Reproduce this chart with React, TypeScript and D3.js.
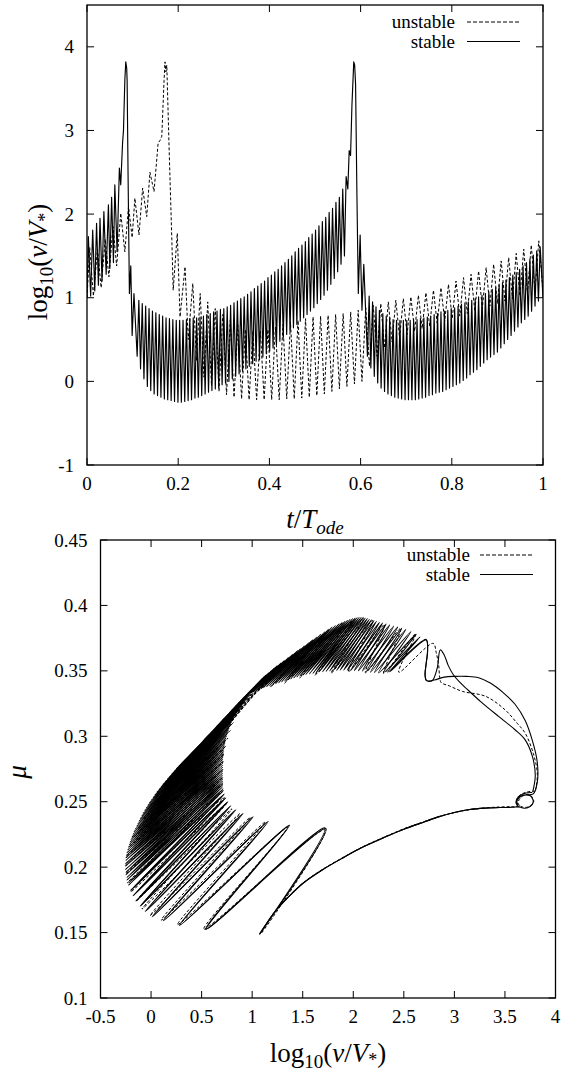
import React from 'react';
import * as d3 from 'd3';

type P = [number, number];

// ---------- ticks ----------
const topXTicks = [0, 0.2, 0.4, 0.6, 0.8, 1];
const topYTicks = [-1, 0, 1, 2, 3, 4];
const botXTicks = [-0.5, 0, 0.5, 1, 1.5, 2, 2.5, 3, 3.5, 4];
const botYTicks = [0.1, 0.15, 0.2, 0.25, 0.3, 0.35, 0.4, 0.45];
const legendLabels = ['unstable', 'stable'];

// ---------- top panel: stable (solid) ----------
const stableTopLead: P[] = [
  [0, 1.0], [0.003, 1.73], [0.008, 1.02], [0.0125, 1.81], [0.017, 1.08], [0.021, 1.89], [0.025, 1.15],
  [0.0285, 1.95], [0.033, 1.2], [0.037, 2.03], [0.042, 1.28], [0.047, 2.11], [0.05, 1.35], [0.054, 2.2],
  [0.058, 1.42], [0.061, 2.35], [0.066, 1.55], [0.071, 2.55], [0.074, 2.35], [0.078, 2.85], [0.08, 3.0],
  [0.083, 3.6], [0.085, 3.82], [0.087, 3.75], [0.088, 3.6], [0.09, 2.5], [0.093, 1.05], [0.096, 1.38],
  [0.099, 0.55], [0.103, 1.05],
];
const stableMidSpan = [0.11, 0.572];
const stableMidTroughs = [
  0.30, 0.15, 0.03, -0.06, -0.11, -0.15, -0.17, -0.19, -0.21, -0.22, -0.23, -0.24, -0.25, -0.25, -0.24,
  -0.23, -0.22, -0.20, -0.19, -0.17, -0.15, -0.13, -0.11, -0.09, -0.07, -0.04, -0.02, 0.0, 0.03, 0.06,
  0.09, 0.12, 0.15, 0.18, 0.21, 0.24, 0.26, 0.29, 0.33, 0.36, 0.40, 0.44, 0.48, 0.52, 0.56, 0.60, 0.64,
  0.68, 0.72, 0.76, 0.80, 0.84, 0.88, 0.93, 0.98, 1.03, 1.09, 1.16, 1.23, 1.31, 1.40, 1.50,
];
const stableMidPeaks = [
  0.97, 0.93, 0.90, 0.87, 0.84, 0.82, 0.80, 0.78, 0.76, 0.75, 0.74, 0.73, 0.73, 0.73, 0.74, 0.75, 0.76,
  0.76, 0.77, 0.78, 0.80, 0.81, 0.83, 0.84, 0.86, 0.87, 0.89, 0.91, 0.94, 0.96, 0.99, 1.01, 1.04, 1.07,
  1.11, 1.14, 1.17, 1.20, 1.24, 1.27, 1.31, 1.34, 1.38, 1.42, 1.46, 1.50, 1.55, 1.59, 1.63, 1.67, 1.72,
  1.76, 1.81, 1.86, 1.91, 1.96, 2.02, 2.07, 2.14, 2.20, 2.30, 2.45,
];
const stableTopSpike: P[] = [
  [0.572, 2.3], [0.575, 2.76], [0.578, 2.7], [0.581, 3.3], [0.585, 3.82], [0.587, 3.78], [0.589, 3.55],
  [0.592, 2.2], [0.595, 1.05], [0.599, 1.75], [0.603, 0.85], [0.607, 1.4],
];
const stableTailSpan = [0.615, 0.9975];
const stableTailTroughs = [
  0.30, 0.16, 0.06, -0.02, -0.08, -0.12, -0.15, -0.17, -0.19, -0.20, -0.21, -0.22, -0.22, -0.22, -0.22,
  -0.21, -0.20, -0.19, -0.17, -0.16, -0.14, -0.13, -0.12, -0.10, -0.08, -0.06, -0.04, -0.02, 0.01, 0.04,
  0.08, 0.11, 0.14, 0.18, 0.22, 0.26, 0.29, 0.32, 0.35, 0.40, 0.45, 0.50, 0.55, 0.60, 0.65, 0.70, 0.74,
  0.78, 0.84, 0.90, 0.96,
];
const stableTailPeaks = [
  1.02, 0.95, 0.89, 0.85, 0.81, 0.78, 0.76, 0.74, 0.73, 0.73, 0.73, 0.73, 0.73, 0.74, 0.74, 0.75, 0.76,
  0.77, 0.78, 0.80, 0.81, 0.83, 0.84, 0.85, 0.87, 0.88, 0.90, 0.92, 0.94, 0.95, 0.97, 0.99, 1.01, 1.03,
  1.05, 1.07, 1.10, 1.12, 1.15, 1.18, 1.21, 1.24, 1.27, 1.30, 1.34, 1.38, 1.42, 1.46, 1.51, 1.56, 1.61,
];
const stableTopEnd: P[] = [[1.0, 1.0]];

// ---------- top panel: unstable (dashed) ----------
const unstableTopLead: P[] = [
  [0, 1.0], [0.006, 1.6], [0.014, 1.02], [0.023, 1.58], [0.031, 1.12], [0.04, 1.7], [0.048, 1.25],
  [0.057, 1.85], [0.065, 1.38], [0.074, 2.01], [0.083, 1.55], [0.091, 2.09], [0.099, 1.72], [0.105, 2.19],
  [0.114, 1.75], [0.122, 2.31], [0.131, 1.97], [0.138, 2.5], [0.147, 2.27], [0.156, 2.85], [0.16, 2.88],
  [0.164, 2.93], [0.169, 3.6], [0.171, 3.82], [0.173, 3.7], [0.175, 3.78], [0.18, 2.8], [0.186, 1.7],
  [0.189, 1.09], [0.198, 1.77], [0.204, 0.77], [0.215, 1.37], [0.222, 0.5], [0.232, 1.17],
];
const unstableMidSpan = [0.24, 0.603];
const unstableMidTroughs = [
  0.25, 0.05, -0.05, -0.12, -0.16, -0.19, -0.21, -0.22, -0.22, -0.22, -0.22, -0.22, -0.21, -0.21, -0.2,
  -0.19, -0.17, -0.15, -0.12, -0.09, -0.06, -0.03,
];
const unstableMidPeaks = [
  1.05, 0.95, 0.87, 0.8, 0.73, 0.67, 0.62, 0.6, 0.6, 0.62, 0.65, 0.68, 0.71, 0.73, 0.75, 0.77, 0.78, 0.79,
  0.8, 0.81, 0.83, 0.85,
];
const unstableTailSpan = [0.603, 0.999];
const unstableTailTroughs = [
  0.0, 0.18, 0.3, 0.4, 0.47, 0.52, 0.56, 0.6, 0.63, 0.66, 0.69, 0.72, 0.75, 0.78, 0.81, 0.84, 0.87, 0.9,
  0.93, 0.96, 0.99, 1.02, 1.05, 1.08,
];
const unstableTailPeaks = [
  0.88, 0.91, 0.93, 0.95, 0.97, 0.99, 1.01, 1.03, 1.06, 1.09, 1.12, 1.16, 1.2, 1.24, 1.28, 1.32, 1.36, 1.4,
  1.44, 1.48, 1.53, 1.58, 1.63, 1.68,
];
const unstableTopEnd: P[] = [[1.0, 1.1]];

// ---------- bottom panel: stable (solid), [log10 v, mu] ----------
const stableSpiral: P[] = [
  [3.77, 0.257], [3.7, 0.2565], [3.63, 0.2535], [3.61, 0.249], [3.66, 0.2455], [3.74, 0.246], [3.78, 0.25],
  [3.75, 0.2545], [3.67, 0.2545], [3.62, 0.251], [3.62, 0.2465], [3.55, 0.2457],
];
const stableLower: P[] = [
  [3.45, 0.2456], [3.3, 0.2451], [3.15, 0.244], [3.0, 0.2418], [2.85, 0.2386], [2.7, 0.2345], [2.5, 0.229],
  [2.3, 0.2225], [2.1, 0.2155], [1.9, 0.2072], [1.7, 0.1982], [1.5, 0.1875], [1.35, 0.1765], [1.22, 0.1655],
  [1.13, 0.1555], [1.09, 0.1508], [1.075, 0.149],
];
// first pass of the oscillating part (alternating low-v / high-v turning points)
const stableTips: P[] = [
  [1.73, 0.2295], [0.54, 0.1525], [1.36, 0.2315], [0.28, 0.1555], [1.15, 0.2345], [0.12, 0.159], [1.0, 0.238],
  [0.01, 0.162], [0.9, 0.2405], [-0.06, 0.166], [0.83, 0.2435], [-0.11, 0.17], [0.78, 0.2465], [-0.15, 0.174],
  [0.75, 0.2495], [-0.18, 0.178], [0.73, 0.2525], [-0.205, 0.182], [0.72, 0.2555], [-0.225, 0.186],
  [0.715, 0.2585], [-0.24, 0.19], [0.71, 0.2615], [-0.25, 0.194], [0.71, 0.2645], [-0.255, 0.198],
  [0.71, 0.2675], [-0.255, 0.2025], [0.71, 0.2705],
  [-0.25, 0.207], [0.71, 0.2735], [-0.24, 0.211], [0.71, 0.2765], [-0.225, 0.215], [0.71, 0.2795],
  [-0.21, 0.219], [0.71, 0.2825], [-0.19, 0.223], [0.715, 0.2855], [-0.17, 0.227], [0.72, 0.2885],
  [-0.145, 0.231], [0.725, 0.2915], [-0.12, 0.235], [0.73, 0.2945], [-0.095, 0.239], [0.74, 0.2975],
  [-0.065, 0.243], [0.75, 0.3005], [-0.035, 0.247], [0.76, 0.3035], [0.0, 0.251], [0.775, 0.3065],
  [0.035, 0.255], [0.79, 0.3095], [0.075, 0.259], [0.805, 0.3125], [0.115, 0.263], [0.825, 0.3155],
  [0.16, 0.267], [0.845, 0.3185], [0.205, 0.271], [0.865, 0.321], [0.25, 0.275], [0.885, 0.3235],
  [0.3, 0.279], [0.905, 0.326], [0.35, 0.283], [0.925, 0.328], [0.4, 0.287], [0.945, 0.33], [0.45, 0.291],
  [0.965, 0.332], [0.505, 0.2955], [0.985, 0.334], [0.56, 0.3], [1.01, 0.336], [0.62, 0.305], [1.04, 0.3385],
  [0.68, 0.31], [1.07, 0.341], [0.74, 0.315], [1.1, 0.344], [0.8, 0.32], [1.14, 0.347], [0.86, 0.325],
  [1.19, 0.35], [0.91, 0.329], [1.25, 0.354],
  [0.96, 0.332], [1.32, 0.358], [1.01, 0.334], [1.4, 0.3625], [1.06, 0.3355], [1.48, 0.367], [1.11, 0.337],
  [1.56, 0.3715], [1.17, 0.3385], [1.64, 0.376], [1.23, 0.34], [1.72, 0.38], [1.29, 0.3415], [1.79, 0.3835],
  [1.35, 0.343], [1.86, 0.386], [1.41, 0.3445], [1.92, 0.388], [1.47, 0.346], [1.97, 0.3895], [1.53, 0.3472],
  [2.02, 0.3905], [1.6, 0.348], [2.06, 0.391], [1.66, 0.349], [2.1, 0.391], [1.73, 0.3495], [2.14, 0.39],
  [1.8, 0.35], [2.18, 0.389], [1.87, 0.3505], [2.23, 0.388], [1.94, 0.3505], [2.29, 0.3865], [2.01, 0.3502],
  [2.36, 0.385], [2.09, 0.3498], [2.44, 0.3835], [2.17, 0.349], [2.52, 0.3817], [2.25, 0.3485], [2.62, 0.378],
  [2.34, 0.349], [2.72, 0.374],
];
const stableApproach: P[] = [
  [2.735, 0.366], [2.72, 0.355], [2.71, 0.347], [2.725, 0.3425], [2.78, 0.3425], [2.83, 0.352], [2.86, 0.366],
  [2.9, 0.362], [2.94, 0.354], [2.99, 0.347], [3.05, 0.3415], [3.14, 0.335], [3.26, 0.3265], [3.44, 0.315],
  [3.6, 0.305], [3.7, 0.2973], [3.77, 0.285], [3.8, 0.27], [3.775, 0.2575],
];
// second pass (second slip event of the stable cycle)
const stableTips2: P[] = [
  [1.72, 0.23], [0.55, 0.153], [1.37, 0.232], [0.29, 0.156], [1.16, 0.235], [0.13, 0.1595], [1.01, 0.2385],
  [0.02, 0.1625], [0.91, 0.241], [-0.05, 0.1665], [0.84, 0.244], [-0.1, 0.1705], [0.79, 0.247], [-0.14, 0.1745],
  [0.76, 0.25], [-0.17, 0.1785], [0.74, 0.253], [-0.195, 0.1825], [0.725, 0.256], [-0.22, 0.188], [0.715, 0.26],
  [-0.24, 0.192], [0.71, 0.263], [-0.25, 0.196], [0.71, 0.266], [-0.255, 0.2005], [0.71, 0.269],
  [-0.252, 0.205], [0.71, 0.272], [-0.245, 0.209], [0.71, 0.275], [-0.233, 0.213], [0.71, 0.278],
  [-0.218, 0.217], [0.71, 0.281], [-0.2, 0.221], [0.712, 0.284], [-0.18, 0.225], [0.717, 0.287],
  [-0.158, 0.229], [0.722, 0.29], [-0.133, 0.233], [0.727, 0.293], [-0.108, 0.237], [0.735, 0.296],
  [-0.08, 0.241], [0.745, 0.299], [-0.05, 0.245], [0.755, 0.302], [-0.018, 0.249], [0.768, 0.305],
  [0.018, 0.253], [0.782, 0.308], [0.055, 0.257], [0.797, 0.311], [0.095, 0.261], [0.815, 0.314],
  [0.138, 0.265], [0.835, 0.317], [0.183, 0.269], [0.855, 0.3198], [0.228, 0.273], [0.875, 0.3222],
  [0.275, 0.277], [0.895, 0.3248], [0.325, 0.281], [0.915, 0.327], [0.375, 0.285], [0.935, 0.329],
  [0.425, 0.289], [0.955, 0.331], [0.478, 0.293], [0.975, 0.333], [0.532, 0.2978], [0.998, 0.335],
  [0.59, 0.3025], [1.025, 0.337], [0.65, 0.3075], [1.055, 0.3398], [0.71, 0.3125], [1.085, 0.3425],
  [0.77, 0.3175], [1.12, 0.3455], [0.83, 0.3225], [1.165, 0.3485], [0.885, 0.327], [1.22, 0.352],
  [0.935, 0.3305], [1.285, 0.356],
  [0.985, 0.333], [1.36, 0.3603], [1.035, 0.3348], [1.44, 0.3648], [1.085, 0.3362], [1.52, 0.3693],
  [1.14, 0.3378], [1.6, 0.3738], [1.2, 0.3392], [1.68, 0.378], [1.26, 0.3408], [1.755, 0.3818], [1.32, 0.3422],
  [1.825, 0.3848], [1.38, 0.3438], [1.89, 0.387], [1.44, 0.3452], [1.945, 0.3888], [1.5, 0.3466], [1.995, 0.39],
  [1.565, 0.3476], [2.04, 0.3908], [1.63, 0.3485], [2.08, 0.391], [1.695, 0.3492], [2.12, 0.3905],
  [1.765, 0.3498], [2.16, 0.3895], [1.835, 0.3503], [2.205, 0.3885], [1.905, 0.3505], [2.26, 0.3872],
  [1.975, 0.3504], [2.325, 0.3858], [2.05, 0.35], [2.4, 0.3842], [2.13, 0.3494], [2.48, 0.3826], [2.21, 0.3488],
  [2.57, 0.38], [2.3, 0.3487], [2.66, 0.376], [2.36, 0.3492], [2.72, 0.3735],
];
const stableApproach2: P[] = [
  [2.735, 0.366], [2.72, 0.355], [2.71, 0.347], [2.725, 0.3425], [2.8, 0.343], [2.9, 0.3452], [3.0, 0.3458],
  [3.12, 0.3458], [3.24, 0.3448], [3.36, 0.3405], [3.48, 0.3335], [3.6, 0.3245], [3.7, 0.312], [3.77, 0.297],
  [3.82, 0.28], [3.82, 0.265], [3.78, 0.256], [3.71, 0.2555],
];

// ---------- bottom panel: unstable (dashed) ----------
const unstableSpiral: P[] = [
  [3.8, 0.258], [3.72, 0.2575], [3.64, 0.2545], [3.615, 0.2495], [3.67, 0.246], [3.75, 0.2465], [3.785, 0.2505],
  [3.74, 0.2555], [3.66, 0.2535], [3.63, 0.249], [3.65, 0.2462], [3.56, 0.2462],
];
const unstableLower: P[] = [
  [3.45, 0.246], [3.3, 0.2452], [3.1, 0.2433], [2.9, 0.2398], [2.7, 0.2348], [2.5, 0.2293], [2.3, 0.2228],
  [2.1, 0.2158], [1.9, 0.2075], [1.7, 0.1985], [1.5, 0.1878], [1.35, 0.1768], [1.22, 0.1658], [1.14, 0.1565],
  [1.1, 0.1515], [1.09, 0.1495],
];
const unstableTips: P[] = [
  [1.72, 0.2285], [0.52, 0.1525], [1.35, 0.2305], [0.26, 0.156], [1.13, 0.2345], [0.1, 0.1595], [0.98, 0.238],
  [-0.01, 0.163], [0.88, 0.241], [-0.09, 0.168], [0.8, 0.2445], [-0.15, 0.174], [0.75, 0.249], [-0.2, 0.181],
  [0.725, 0.2535], [-0.235, 0.188], [0.715, 0.2585], [-0.25, 0.195], [0.71, 0.2635], [-0.255, 0.2015],
  [0.71, 0.2685], [-0.245, 0.2085], [0.71, 0.2745], [-0.22, 0.2155], [0.715, 0.2805], [-0.18, 0.2225],
  [0.725, 0.2865], [-0.13, 0.2295], [0.74, 0.2925], [-0.08, 0.2365], [0.76, 0.2985], [-0.02, 0.2435],
  [0.785, 0.3045], [0.05, 0.2505], [0.815, 0.3105], [0.13, 0.2575], [0.85, 0.3165], [0.22, 0.2645],
  [0.89, 0.322], [0.31, 0.2715], [0.93, 0.327], [0.41, 0.2785], [0.97, 0.3315], [0.52, 0.2875], [1.02, 0.336],
  [0.63, 0.297], [1.08, 0.3405], [0.75, 0.307], [1.17, 0.3465], [0.85, 0.317], [1.3, 0.356],
  [0.95, 0.327], [1.45, 0.3655], [1.05, 0.334], [1.6, 0.3735], [1.18, 0.3375], [1.76, 0.3815], [1.32, 0.3405],
  [1.9, 0.387], [1.47, 0.3445], [2.01, 0.3895], [1.62, 0.3465], [2.1, 0.3905], [1.78, 0.348], [2.19, 0.3885],
  [1.95, 0.349], [2.31, 0.3855], [2.12, 0.3485], [2.47, 0.3825], [2.3, 0.348], [2.62, 0.3785], [2.45, 0.349],
  [2.79, 0.371],
];
const unstableApproach: P[] = [
  [2.82, 0.364], [2.845, 0.354], [2.855, 0.345], [2.87, 0.341], [2.95, 0.3385], [3.08, 0.3343], [3.31, 0.3305],
  [3.5, 0.3203], [3.62, 0.31], [3.7, 0.3024], [3.78, 0.287], [3.82, 0.272], [3.81, 0.262], [3.8, 0.258],
];

// ---------- helpers ----------
function cycles(span: number[], troughs: number[], peaks: number[]): P[] {
  const s = d3.scaleLinear().domain([0, troughs.length]).range(span);
  const out: P[] = [];
  troughs.forEach((v, i) => {
    out.push([s(i), v]);
    out.push([s(i + 0.5), peaks[i]]);
  });
  return out;
}

const FONT = '"Liberation Serif", "DejaVu Serif", "Noto Serif", "Times New Roman", Times, serif';
const TICK = 7;
const txt = (size: number, extra: any = {}) => ({ fontFamily: FONT, fontSize: size + 'px', ...extra });

const stableTop: P[] = [
  ...stableTopLead,
  ...cycles(stableMidSpan, stableMidTroughs, stableMidPeaks),
  ...stableTopSpike,
  ...cycles(stableTailSpan, stableTailTroughs, stableTailPeaks),
  ...stableTopEnd,
];
const unstableTop: P[] = [
  ...unstableTopLead,
  ...cycles(unstableMidSpan, unstableMidTroughs, unstableMidPeaks),
  ...cycles(unstableTailSpan, unstableTailTroughs, unstableTailPeaks),
  ...unstableTopEnd,
];
const stableBottom: P[] = [...stableSpiral, ...stableLower, ...stableTips, ...stableApproach];
const stableBottom2: P[] = [...stableLower, ...stableTips2, ...stableApproach2];
const unstableBottom: P[] = [...unstableSpiral, ...unstableLower, ...unstableTips, ...unstableApproach];

function Frame({ x, y, xTicks, yTicks }: { x: any; y: any; xTicks: number[]; yTicks: number[] }) {
  const [x0, x1] = x.range();
  const [y0, y1] = y.range();
  return (
    <g>
      {xTicks.map((t) => (
        <g key={'x' + t}>
          <line x1={x(t)} x2={x(t)} y1={y0} y2={y0 - TICK} stroke="#000" strokeWidth={1} />
          <line x1={x(t)} x2={x(t)} y1={y1} y2={y1 + TICK} stroke="#000" strokeWidth={1} />
          <text x={x(t)} y={y0 + 25} style={txt(19)} textAnchor="middle">{String(t)}</text>
        </g>
      ))}
      {yTicks.map((t) => (
        <g key={'y' + t}>
          <line x1={x0} x2={x0 + TICK} y1={y(t)} y2={y(t)} stroke="#000" strokeWidth={1} />
          <line x1={x1} x2={x1 - TICK} y1={y(t)} y2={y(t)} stroke="#000" strokeWidth={1} />
          <text x={x0 - 13} y={y(t) + 6.5} style={txt(19)} textAnchor="end">{String(t)}</text>
        </g>
      ))}
      <rect x={x0} y={y1} width={x1 - x0} height={y0 - y1} fill="none" stroke="#000" strokeWidth={1.3} />
    </g>
  );
}

function Legend({ xText, xLine0, xLine1, y0 }: { xText: number; xLine0: number; xLine1: number; y0: number }) {
  return (
    <g>
      {legendLabels.map((lab, i) => (
        <g key={lab}>
          <text x={xText} y={y0 + i * 19.5} style={txt(19)} textAnchor="end">{lab}</text>
          <line x1={xLine0} x2={xLine1} y1={y0 + i * 19.5 - 6} y2={y0 + i * 19.5 - 6} stroke="#000"
            strokeWidth={1} strokeDasharray={i === 0 ? '4,2' : undefined} />
        </g>
      ))}
    </g>
  );
}

function LogLabel({ transform }: { transform: string }) {
  return (
    <text transform={transform} style={txt(27)} textAnchor="middle">
      log<tspan style={txt(19)} dy={6}>10</tspan>
      <tspan dy={-6}>(</tspan>
      <tspan style={txt(27, { fontStyle: 'italic' })}>v</tspan>/<tspan style={txt(27, { fontStyle: 'italic' })}>V</tspan>
      <tspan style={txt(18)} dy={4}>*</tspan>
      <tspan dy={-4}>)</tspan>
    </text>
  );
}

function TopPanel() {
  const x = d3.scaleLinear().domain([0, 1]).range([87, 543]);
  const y = d3.scaleLinear().domain([-1, 4.5]).range([465, 5]);
  const line = d3.line<P>().x((d) => x(d[0])).y((d) => y(d[1]));
  return (
    <g>
      <defs>
        <clipPath id="clipTop"><rect x={87} y={5} width={456} height={460} /></clipPath>
      </defs>
      <g clipPath="url(#clipTop)">
        <path d={line(unstableTop) || ''} fill="none" stroke="#000" strokeWidth={1} strokeDasharray="3,2" />
        <path d={line(stableTop) || ''} fill="none" stroke="#000" strokeWidth={1.15} strokeLinejoin="round" />
      </g>
      <Frame x={x} y={y} xTicks={topXTicks} yTicks={topYTicks} />
      <Legend xText={455} xLine0={467} xLine1={520} y0={28} />
      <LogLabel transform="translate(47,262) rotate(-90)" />
      <text x={315} y={528} style={txt(27)} textAnchor="middle">
        <tspan style={txt(27, { fontStyle: 'italic' })}>t</tspan>/<tspan style={txt(27, { fontStyle: 'italic' })}>T</tspan>
        <tspan style={txt(19, { fontStyle: 'italic' })} dy={6}>ode</tspan>
      </text>
    </g>
  );
}

function BottomPanel() {
  const x = d3.scaleLinear().domain([-0.5, 4]).range([100.5, 555.5]);
  const y = d3.scaleLinear().domain([0.1, 0.45]).range([998, 540]);
  const line = d3.line<P>().x((d) => x(d[0])).y((d) => y(d[1])).curve(d3.curveCatmullRom.alpha(0.5));
  return (
    <g>
      <defs>
        <clipPath id="clipBot"><rect x={100.5} y={540} width={455} height={458} /></clipPath>
      </defs>
      <g clipPath="url(#clipBot)">
        <path d={line(stableBottom) || ''} fill="none" stroke="#000" strokeWidth={1.1} />
        <path d={line(stableBottom2) || ''} fill="none" stroke="#000" strokeWidth={1.1} />
        <path d={line(unstableBottom) || ''} fill="none" stroke="#000" strokeWidth={1} strokeDasharray="3,2" />
      </g>
      <Frame x={x} y={y} xTicks={botXTicks} yTicks={botYTicks} />
      <Legend xText={470} xLine0={480} xLine1={533} y0={561} />
      <LogLabel transform="translate(328,1062)" />
      <text transform="translate(26,772) rotate(-90)" style={txt(27, { fontStyle: 'italic' })}
        textAnchor="middle">μ</text>
    </g>
  );
}

export default function App() {
  return (
    <div style={{ position: 'absolute', left: 0, top: 0 }}>
      <svg width={565} height={1072} viewBox="0 0 565 1072" style={{ display: 'block', background: '#fff' }}>
        <rect width={565} height={1072} fill="#fff" />
        <TopPanel />
        <BottomPanel />
      </svg>
    </div>
  );
}
